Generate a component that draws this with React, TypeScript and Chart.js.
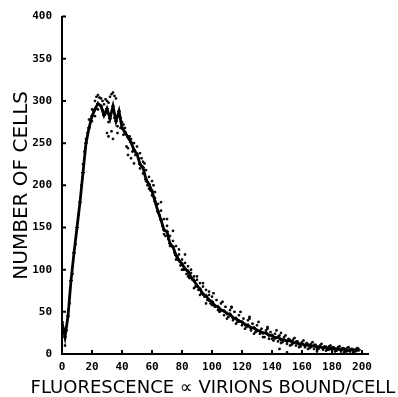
import React, { useEffect, useRef } from "react";
import { Chart, registerables } from "chart.js";

Chart.register(...registerables);

const xTicks = [0, 20, 40, 60, 80, 100, 120, 140, 160, 180, 200];
const yTicks = [0, 50, 100, 150, 200, 250, 300, 350, 400];
const xTitle = "FLUORESCENCE \u221D VIRIONS BOUND/CELL";
const yTitle = "NUMBER OF CELLS";

const curveX = [
  0, 2, 4, 6, 8, 10, 12, 14, 16, 18, 20, 22, 24, 26, 28, 30, 32, 34, 36, 38,
  40, 42, 44, 46, 48, 50, 52, 54, 56, 58, 60, 62, 64, 66, 68, 70, 72, 74, 76, 78,
  80, 82, 84, 86, 88, 90, 92, 94, 96, 98, 100, 102, 104, 106, 108, 110, 112, 114, 116, 118,
  120, 122, 124, 126, 128, 130, 132, 134, 136, 138, 140, 142, 144, 146, 148, 150, 152, 154, 156, 158,
  160, 162, 164, 166, 168, 170, 172, 174, 176, 178, 180, 182, 184, 186, 188, 190, 192, 194, 196, 198,
];
const curveY = [
  38, 20, 45, 87, 120, 150, 180, 215, 250, 268, 282, 290, 297, 294, 283, 291, 279, 294, 276, 288,
  268, 263, 257, 251, 242, 237, 225, 221, 207, 201, 193, 181, 169, 159, 147, 145, 131, 127, 117, 111,
  107, 101, 98, 91, 87, 81, 77, 71, 69, 64, 62, 57, 56, 52, 51, 48, 47, 43, 42, 39,
  38, 35, 34, 31, 31, 28, 27, 25, 25, 22, 22, 19, 20, 17, 17, 15, 16, 13, 14, 12,
  12, 10, 11, 9, 10, 8, 9, 7, 8, 6, 7, 6, 6, 5, 6, 4, 5, 5, 4, 5,
];

const dotX = [
  1, 2, 3, 5, 7, 9, 11, 13, 14, 15, 17, 18, 19, 20, 21, 22, 23, 24, 25, 26,
  27, 28, 29, 30, 31, 32, 33, 34, 35, 36, 30, 31, 33, 34, 37, 38, 39, 40, 41, 42,
  43, 44, 45, 46, 47, 48, 49, 50, 51, 52, 53, 54, 55, 56, 57, 58, 59, 60, 61, 62,
  63, 64, 65, 66, 67, 68, 69, 70, 71, 72, 73, 74, 75, 76, 77, 78, 79, 80, 81, 82,
  83, 84, 85, 86, 87, 88, 89, 90, 91, 92, 93, 94, 95, 96, 97, 98, 99, 100, 102, 103,
  105, 106, 108, 109, 111, 112, 114, 115, 117, 118, 120, 121, 123, 124, 126, 127, 129, 130, 132, 133,
  135, 136, 138, 139, 141, 142, 144, 145, 147, 148, 150, 151, 153, 154, 156, 157, 159, 160, 162, 163,
  165, 166, 168, 169, 171, 172, 174, 175, 177, 178, 180, 181, 183, 184, 186, 187, 189, 190, 192, 193,
  195, 196, 150, 145, 170, 101, 113, 125, 137, 146,
  44, 46, 48, 52, 54, 56, 58, 60, 62, 64, 66, 68, 70, 72, 74, 76, 78, 80, 82, 84,
  86, 88, 90, 92, 94, 96, 98, 100, 104, 107, 110, 113, 116, 119, 122, 125, 128, 131, 134, 137,
  140, 143, 146, 149, 152, 155, 158, 161, 164, 167, 170, 173, 176, 179, 182, 185, 188, 191, 194, 197,
  16, 20, 22, 24, 27, 29, 31, 35, 37, 39, 41,
];
const dotY = [
  30, 10, 28, 60, 95, 130, 165, 200, 225, 240, 262, 278, 275, 290, 288, 300, 305, 307, 304, 303,
  300, 296, 302, 300, 298, 305, 308, 310, 306, 303, 262, 258, 264, 255, 270, 285, 280, 275, 272, 268,
  246, 244, 258, 255, 240, 250, 236, 246, 232, 220, 232, 214, 226, 205, 200, 210, 194, 188, 200, 185,
  176, 178, 165, 170, 152, 160, 140, 152, 136, 140, 128, 134, 120, 128, 115, 118, 105, 112, 100, 108,
  95, 104, 90, 100, 88, 92, 80, 88, 76, 84, 72, 80, 68, 76, 64, 70, 60, 68, 56, 64,
  50, 60, 46, 56, 44, 52, 40, 50, 38, 46, 34, 42, 32, 40, 28, 36, 26, 34, 24, 30,
  20, 28, 18, 26, 16, 24, 15, 22, 14, 20, 12, 18, 11, 17, 10, 15, 9, 14, 8, 13,
  7, 12, 6, 11, 6, 10, 5, 9, 5, 9, 4, 8, 4, 8, 3, 7, 3, 7, 3, 6,
  3, 6, 2, 6, 3, 72, 55, 42, 30, 25,
  236, 232, 226, 238, 228, 218, 196, 205, 192, 168, 180, 142, 160, 128, 146, 112, 124, 100, 118, 92,
  96, 78, 92, 70, 84, 60, 74, 58, 52, 62, 42, 56, 36, 50, 30, 44, 24, 38, 20, 32,
  18, 28, 13, 22, 10, 19, 8, 16, 6, 14, 5, 12, 4, 10, 3, 9, 2, 8, 2, 7,
  255, 276, 282, 290, 289, 285, 275, 280, 262, 268, 260,
];

const decorations = {
  id: "decorations",
  afterDraw(chart: any) {
    const { ctx } = chart;
    const xs = chart.scales.x;
    const ys = chart.scales.y;
    ctx.save();
    ctx.strokeStyle = "#000";
    ctx.lineWidth = 2;
    ctx.beginPath();
    yTicks.forEach((v) => {
      const py = ys.getPixelForValue(v);
      ctx.moveTo(xs.left, py);
      ctx.lineTo(xs.left + 4, py);
    });
    xTicks.forEach((v) => {
      const px = xs.getPixelForValue(v);
      ctx.moveTo(px, ys.bottom);
      ctx.lineTo(px, ys.bottom - 4);
    });
    ctx.stroke();
    // x-axis title drawn without width compression
    ctx.fillStyle = "#000";
    ctx.font = "18px 'DejaVu Sans'";
    ctx.textAlign = "center";
    ctx.textBaseline = "alphabetic";
    ctx.fillText(xTitle, 213, 393);
    ctx.restore();
  },
};

export default function App() {
  const ref = useRef<HTMLCanvasElement | null>(null);
  useEffect(() => {
    document.body.style.margin = "0";
    const curve = curveX.map((x, i) => ({ x, y: curveY[i] }));
    const dots = dotX.map((x, i) => ({ x, y: dotY[i] }));
    const chart = new Chart(ref.current as HTMLCanvasElement, {
      type: "scatter",
      data: {
        datasets: [
          {
            data: dots,
            backgroundColor: "#000",
            borderColor: "#000",
            pointRadius: 1.1,
            pointStyle: "rect",
            showLine: false,
          },
          {
            data: curve,
            showLine: true,
            borderColor: "#000",
            backgroundColor: "#000",
            borderWidth: 2.8,
            pointRadius: 2,
            pointStyle: "cross",
            pointBorderWidth: 1.2,
            tension: 0,
          },
        ],
      },
      options: {
        animation: false,
        responsive: false,
        maintainAspectRatio: false,
        events: [],
        layout: { padding: { left: 0, top: 12, right: 30, bottom: 0 } },
        plugins: { legend: { display: false }, tooltip: { enabled: false } },
        scales: {
          x: {
            type: "linear",
            min: 0,
            max: 204,
            afterBuildTicks: (s: any) => {
              s.ticks = xTicks.map((v) => ({ value: v }));
            },
            afterFit: (s: any) => {
              s.height = 43;
            },
            grid: { display: true, drawOnChartArea: false, drawTicks: false },
            border: { display: true, color: "#000", width: 2 },
            ticks: {
              color: "#000",
              padding: 7,
              maxRotation: 0,
              autoSkip: false,
              font: { family: "DejaVu Sans Mono", size: 11, weight: "bold" },
            },
            title: { display: false },
          },
          y: {
            type: "linear",
            min: 0,
            max: 400,
            afterBuildTicks: (s: any) => {
              s.ticks = yTicks.map((v) => ({ value: v }));
            },
            afterFit: (s: any) => {
              s.width = 62;
            },
            grid: { display: true, drawOnChartArea: false, drawTicks: false },
            border: { display: true, color: "#000", width: 2 },
            ticks: {
              color: "#000",
              padding: 10,
              autoSkip: false,
              font: { family: "DejaVu Sans Mono", size: 11, weight: "bold" },
            },
            title: {
              display: true,
              text: yTitle,
              color: "#000",
              padding: { top: 10, bottom: 0 },
              font: { family: "DejaVu Sans", size: 20, weight: "normal" },
            },
          },
        },
      },
      plugins: [decorations],
    });
    return () => chart.destroy();
  }, []);
  return (
    <div style={{ position: "relative", width: 398, height: 397, background: "#fff" }}>
      <canvas ref={ref} width={398} height={397} style={{ display: "block" }} />
    </div>
  );
}
